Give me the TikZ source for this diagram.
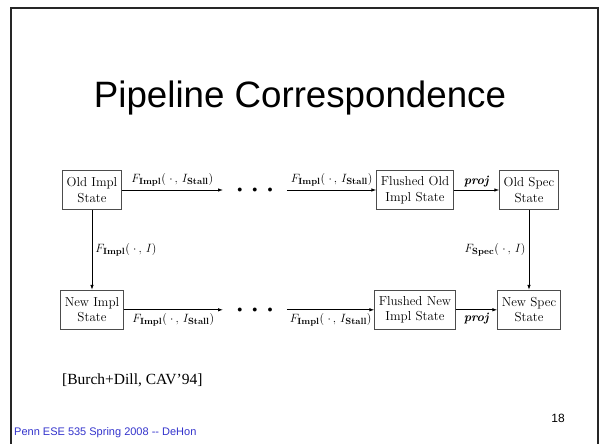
\documentclass[tikz,border=0pt]{standalone}
\usepackage{fontspec}
\newfontfamily\arialfont{Liberation Sans}
\newfontfamily\timesfont{Liberation Serif}
\usepackage{tikz}
\usetikzlibrary{positioning, arrows.meta}
\usepackage{xcolor}
\definecolor{footblue}{RGB}{51,51,204}
\newcommand{\subbf}[1]{\mbox{\fontsize{9}{11}\selectfont\bfseries #1}}

\begin{document}
\begin{tikzpicture}[
    x=1pt, y=-1pt,
    statebox/.style={rectangle, draw=black!70, line width=0.8pt, fill=white, align=center, font=\fontsize{13}{15.5}\selectfont, inner xsep=4pt, inner ysep=4pt, minimum height=39pt},
    dotsnode/.style={inner xsep=14pt, inner ysep=0pt, font=\fontsize{10}{12}\selectfont},
    fn/.style={font=\fontsize{12.5}{15}\selectfont, inner sep=3pt},
    arrow/.style={-{Latex[length=5pt,width=3.5pt]}, line width=0.9pt}
]
\useasboundingbox (0,0) rectangle (600,444);

% Slide frame
\draw[line width=2.5pt, black!85] (11,444) -- (11,8) -- (598,8) -- (598,444);

% Title
\node[font=\arialfont\fontsize{36.7}{40}\selectfont] (title) at (300,98) {Pipeline Correspondence};

% Top row
\node[statebox] (oldimpl) at (92,190) {Old Impl\\State};
\node[dotsnode] (dotsold) at (255,190) {$\bullet\hspace{8pt}\bullet\hspace{8pt}\bullet$};
\node[statebox] (flushold) at (415,190) {Flushed Old\\Impl State};
\node[statebox] (oldspec) at (529,190) {Old Spec\\State};

% Bottom row
\node[statebox, below=80pt of oldimpl] (newimpl) {New Impl\\State};
\node[dotsnode] (dotsnew) at (dotsold |- newimpl) {$\bullet\hspace{8pt}\bullet\hspace{8pt}\bullet$};
\node[statebox, below=80pt of flushold] (flushnew) {Flushed New\\Impl State};
\node[statebox, below=80pt of oldspec] (newspec) {New Spec\\State};

% Arrows
\draw[arrow] (oldimpl) -- (dotsold) node[midway, above, fn] {$F_{\subbf{Impl}}(\;\cdot\,,\,I_{\subbf{Stall}})$};
\draw[arrow] (dotsold) -- (flushold) node[midway, above, fn] {$F_{\subbf{Impl}}(\;\cdot\,,\,I_{\subbf{Stall}})$};
\draw[arrow] (flushold) -- (oldspec) node[midway, above, fn] {\textbf{\textit{proj}}};

\draw[arrow] (oldimpl) -- (newimpl) node[midway, right, fn] {$F_{\subbf{Impl}}(\;\cdot\,,\,I)$};
\draw[arrow] (oldspec) -- (newspec) node[midway, left, fn] {$F_{\subbf{Spec}}(\;\cdot\,,\,I)$};

\draw[arrow] (newimpl) -- (dotsnew) node[midway, below, fn] {$F_{\subbf{Impl}}(\;\cdot\,,\,I_{\subbf{Stall}})$};
\draw[arrow] (dotsnew) -- (flushnew) node[midway, below, fn] {$F_{\subbf{Impl}}(\;\cdot\,,\,I_{\subbf{Stall}})$};
\draw[arrow] (flushnew) -- (newspec) node[midway, below, fn] {\textbf{\textit{proj}}};

% Citation and footer
\node[anchor=west, inner sep=0pt, font=\timesfont\fontsize{15.5}{18}\selectfont] (cite) at (62,380) {[Burch+Dill, CAV’94]};
\node[font=\arialfont\fontsize{12}{14}\selectfont] (pagenum) at (558,418) {18};
\node[anchor=west, inner sep=0pt, text=footblue, font=\arialfont\fontsize{11}{13}\selectfont] (footer) at (14,433) {Penn ESE 535 Spring 2008 -{}- DeHon};

\end{tikzpicture}
\end{document}
